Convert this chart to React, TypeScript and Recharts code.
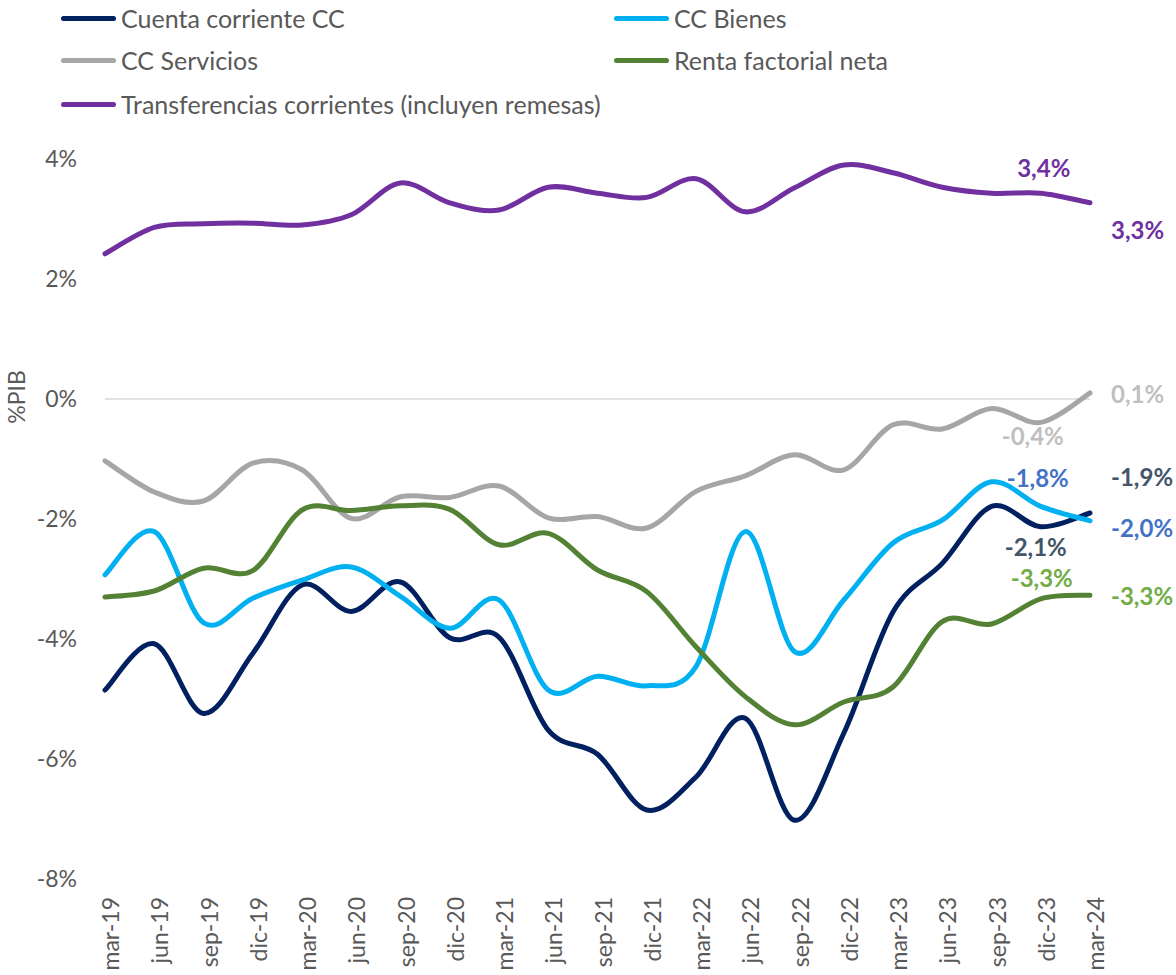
import React from 'react';
import { LineChart, Line, XAxis, YAxis, ReferenceLine, LabelList } from 'recharts';

const periods = [
  'mar-19', 'jun-19', 'sep-19', 'dic-19', 'mar-20', 'jun-20', 'sep-20', 'dic-20',
  'mar-21', 'jun-21', 'sep-21', 'dic-21', 'mar-22', 'jun-22', 'sep-22', 'dic-22',
  'mar-23', 'jun-23', 'sep-23', 'dic-23', 'mar-24',
];
const cuentaCorriente = [-4.85, -4.08, -5.24, -4.24, -3.1, -3.54, -3.05, -3.98, -3.97, -5.52, -5.92, -6.85, -6.3, -5.32, -7.02, -5.57, -3.55, -2.74, -1.79, -2.13, -1.9];
const ccBienes = [-2.93, -2.21, -3.73, -3.32, -3.02, -2.8, -3.29, -3.82, -3.35, -4.85, -4.62, -4.78, -4.46, -2.21, -4.21, -3.35, -2.4, -2.02, -1.38, -1.79, -2.03];
const ccServicios = [-1.03, -1.55, -1.7, -1.07, -1.18, -1.99, -1.63, -1.64, -1.45, -1.98, -1.96, -2.15, -1.54, -1.28, -0.93, -1.18, -0.43, -0.5, -0.16, -0.39, 0.1];
const rentaFactorial = [-3.3, -3.2, -2.82, -2.86, -1.85, -1.86, -1.78, -1.84, -2.43, -2.24, -2.85, -3.21, -4.13, -4.96, -5.43, -5.05, -4.8, -3.71, -3.75, -3.33, -3.27];
const transferencias = [2.42, 2.86, 2.92, 2.93, 2.9, 3.07, 3.6, 3.27, 3.15, 3.53, 3.43, 3.36, 3.67, 3.12, 3.52, 3.9, 3.77, 3.53, 3.43, 3.43, 3.27];
const yTicks = [-8, -6, -4, -2, 0, 2, 4];

const data = periods.map((p, i) => ({
  period: p,
  cc: cuentaCorriente[i],
  bienes: ccBienes[i],
  servicios: ccServicios[i],
  renta: rentaFactorial[i],
  transf: transferencias[i],
}));

const FONT = "Lato, 'Open Sans', sans-serif";
const AXIS_GREY = '#595959';

// Excel-like smoothed line (Catmull-Rom through every point)
function excelSmooth(context: any) {
  let pts: number[][] = [];
  return {
    areaStart() {},
    areaEnd() {},
    lineStart() { pts = []; },
    point(x: number, y: number) { pts.push([+x, +y]); },
    lineEnd() {
      if (!pts.length) return;
      context.moveTo(pts[0][0], pts[0][1]);
      for (let i = 0; i < pts.length - 1; i++) {
        const p0 = pts[i - 1] || pts[i];
        const p1 = pts[i];
        const p2 = pts[i + 1];
        const p3 = pts[i + 2] || p2;
        context.bezierCurveTo(
          p1[0] + (p2[0] - p0[0]) / 6, p1[1] + (p2[1] - p0[1]) / 6,
          p2[0] - (p3[0] - p1[0]) / 6, p2[1] - (p3[1] - p1[1]) / 6,
          p2[0], p2[1],
        );
      }
    },
  };
}

type Spot = { i: number; dx: number; dy: number; anchor: 'start' | 'middle' | 'end' };

function pctLabel(color: string, spots: Spot[]) {
  return (props: any) => {
    const s = spots.find(p => p.i === props.index);
    if (!s) return null;
    const txt = Number(props.value).toFixed(1).replace('.', ',') + '%';
    return (
      <text
        x={props.x + s.dx}
        y={props.y + s.dy}
        dy="0.35em"
        textAnchor={s.anchor}
        fill={color}
        fontSize={24}
        fontWeight={700}
        fontFamily={FONT}
      >
        {txt}
      </text>
    );
  };
}

const series = [
  { key: 'cc', name: 'Cuenta corriente CC', color: '#002060', labelColor: '#44546A',
    spots: [{ i: 19, dx: -5, dy: 21, anchor: 'middle' }, { i: 20, dx: 21, dy: -35, anchor: 'start' }] },
  { key: 'bienes', name: 'CC Bienes', color: '#00B0F0', labelColor: '#4472C4',
    spots: [{ i: 19, dx: -3, dy: -28, anchor: 'middle' }, { i: 20, dx: 21, dy: 8, anchor: 'start' }] },
  { key: 'servicios', name: 'CC Servicios', color: '#A6A6A6', labelColor: '#BFBFBF',
    spots: [{ i: 19, dx: -8, dy: 14, anchor: 'middle' }, { i: 20, dx: 21, dy: 2, anchor: 'start' }] },
  { key: 'renta', name: 'Renta factorial neta', color: '#548235', labelColor: '#70AD47',
    spots: [{ i: 19, dx: 1, dy: -20, anchor: 'middle' }, { i: 20, dx: 21, dy: 1, anchor: 'start' }] },
  { key: 'transf', name: 'Transferencias corrientes (incluyen remesas)', color: '#7030A0', labelColor: '#7030A0',
    spots: [{ i: 19, dx: 3, dy: -25, anchor: 'middle' }, { i: 20, dx: 21, dy: 28, anchor: 'start' }] },
] as { key: string; name: string; color: string; labelColor: string; spots: Spot[] }[];

const legendPos = [
  { x: 61, y: 18 }, { x: 614, y: 18 },
  { x: 61, y: 60 }, { x: 614, y: 60 },
  { x: 61, y: 104 },
];

const XTick = (props: any) => {
  const { x, y, payload } = props;
  return (
    <g transform={`translate(${x},${y})`}>
      <text transform="rotate(-90)" x={0} y={14} textAnchor="end" fill={AXIS_GREY} fontSize={23} fontFamily={FONT}>
        {payload.value}
      </text>
    </g>
  );
};

export default function App() {
  return (
    <div style={{ position: 'absolute', left: 0, top: 0, width: 1176, height: 975, background: '#fff', overflow: 'hidden' }}>
      {series.map((s, i) => (
        <div key={s.key} style={{ position: 'absolute', left: legendPos[i].x, top: legendPos[i].y - 15, height: 30, display: 'flex', alignItems: 'center' }}>
          <div style={{ width: 55, height: 5, borderRadius: 3, background: s.color }} />
          <span style={{ marginLeft: 5, fontFamily: FONT, fontSize: 25, color: AXIS_GREY, whiteSpace: 'nowrap' }}>{s.name}</span>
        </div>
      ))}
      <LineChart width={1176} height={975} data={data} margin={{ top: 159, right: 86, bottom: 0, left: 0 }}>
        <XAxis
          dataKey="period"
          interval={0}
          height={96}
          tickLine={false}
          axisLine={false}
          tickSize={0}
          tickMargin={18}
          tick={<XTick />}
        />
        <YAxis
          width={105}
          domain={[-8, 4]}
          ticks={yTicks}
          tickFormatter={v => `${v}%`}
          tick={{ fill: AXIS_GREY, fontSize: 23, fontFamily: FONT }}
          tickLine={false}
          axisLine={false}
          tickSize={0}
          tickMargin={28}
          label={{
            content: () => (
              <text x={17} y={397} transform="rotate(-90 17 397)" textAnchor="middle" dy="0.35em" fill={AXIS_GREY} fontSize={23} fontFamily={FONT}>
                %PIB
              </text>
            ),
          }}
        />
        <ReferenceLine y={0} stroke="#D9D9D9" strokeWidth={1.5} />
        {series.map(s => (
          <Line
            key={s.key}
            dataKey={s.key}
            type={excelSmooth as any}
            stroke={s.color}
            strokeWidth={5}
            strokeLinecap="round"
            dot={false}
            activeDot={false}
            isAnimationActive={false}
          >
            <LabelList dataKey={s.key} content={pctLabel(s.labelColor, s.spots)} />
          </Line>
        ))}
      </LineChart>
    </div>
  );
}
